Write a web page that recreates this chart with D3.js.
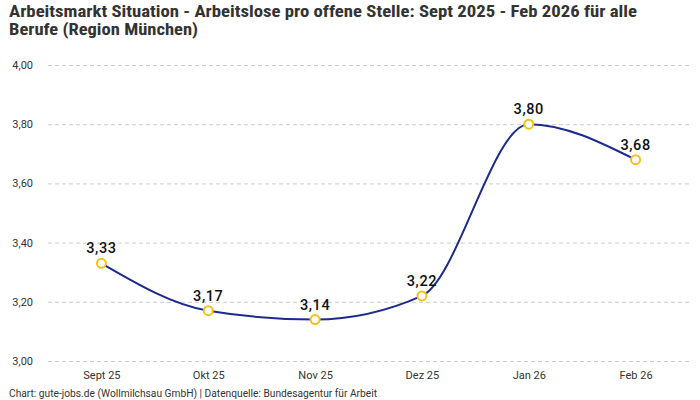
<!DOCTYPE html>
<html>
<head>
<meta charset="utf-8">
<script src="https://cdn.jsdelivr.net/npm/d3@7"></script>
<style>
body{margin:0;background:#fff;}
svg text{font-family:"Roboto","Liberation Sans",sans-serif;}
</style>
</head>
<body>
<svg id="chart" width="700" height="400"></svg>
<script>
var months = ["Sept 25","Okt 25","Nov 25","Dez 25","Jan 26","Feb 26"];
var values = [3.33,3.17,3.14,3.22,3.80,3.68];
var yTicks = [3.00,3.20,3.40,3.60,3.80,4.00];

var svg = d3.select("#chart");
var fmt = function(v){ return v.toFixed(2).replace(".", ","); };

var x = d3.scalePoint().domain(months).range([48,689]).padding(0.5);
var y = d3.scaleLinear().domain([3.0,4.0]).range([361,65]);

// title, two lines
var titleFont = "'Liberation Sans Narrow','Roboto Condensed',Roboto,sans-serif";
var title = svg.append("text").attr("x",9).attr("y",17)
	.style("font-family",titleFont)
	.attr("font-size",16.5).attr("font-weight","bold").attr("fill","#333");
title.append("tspan").attr("x",9).attr("y",17)
	.attr("textLength",628).attr("lengthAdjust","spacingAndGlyphs")
	.text("Arbeitsmarkt Situation - Arbeitslose pro offene Stelle: Sept 2025 - Feb 2026 für alle");
title.append("tspan").attr("x",9).attr("y",35)
	.attr("textLength",189).attr("lengthAdjust","spacingAndGlyphs")
	.text("Berufe (Region München)");

// grid + y labels
var yAxis = d3.axisLeft(y).tickValues(yTicks).tickFormat(fmt).tickSize(-641);
var ga = svg.append("g").attr("transform","translate(48,0)").call(yAxis);
ga.select(".domain").remove();
ga.selectAll(".tick line").attr("stroke","#ccc").attr("stroke-dasharray","4,3");
ga.selectAll(".tick text").attr("x",-15).attr("font-size",11).attr("fill","#333");

// x axis labels
var xa = svg.append("g").attr("transform","translate(0,361)").call(d3.axisBottom(x).tickSize(0));
xa.select(".domain").remove();
xa.selectAll(".tick text").attr("dy",15).attr("font-size",11).attr("fill","#333");

// line
var line = d3.line().x(function(d,i){return x(months[i]);}).y(function(d){return y(d);})
	.curve(d3.curveMonotoneX);
svg.append("path").datum(values).attr("d",line)
	.attr("fill","none").attr("stroke","#1c2a8c").attr("stroke-width",2);

// markers
svg.selectAll("circle.pt").data(values).enter().append("circle").attr("class","pt")
	.attr("cx",function(d,i){return x(months[i]);})
	.attr("cy",function(d){return y(d);})
	.attr("r",4.5).attr("fill","#fff").attr("stroke","#f5c211").attr("stroke-width",2);

// value labels
svg.selectAll("text.val").data(values).enter().append("text").attr("class","val")
	.attr("x",function(d,i){return x(months[i]);})
	.attr("y",function(d){return y(d)-10;})
	.attr("text-anchor","middle").attr("font-size",14.5).attr("font-weight",500)
	.attr("letter-spacing",0.6).attr("fill","#111")
	.text(fmt);

// footer
svg.append("text").attr("x",9).attr("y",397).attr("font-size",10).attr("fill","#333")
	.attr("textLength",368).attr("lengthAdjust","spacingAndGlyphs")
	.text("Chart: gute-jobs.de (Wollmilchsau GmbH) | Datenquelle: Bundesagentur für Arbeit");
</script>
</body>
</html>
